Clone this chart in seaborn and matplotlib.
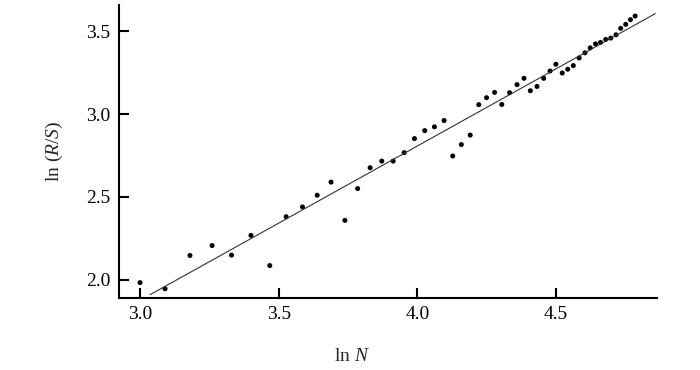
import numpy as np
import pandas as pd
import matplotlib
matplotlib.use("Agg")
import matplotlib.pyplot as plt
import seaborn as sns

# points: ln N vs ln (R/S)
ln_n = [3.00, 3.09, 3.18, 3.26, 3.33, 3.40, 3.468, 3.527, 3.586, 3.639,
        3.689, 3.739, 3.785, 3.83, 3.872, 3.913, 3.953, 3.99, 4.027, 4.062,
        4.097, 4.128, 4.159, 4.191, 4.222, 4.25, 4.279, 4.305, 4.333, 4.36,
        4.385, 4.408, 4.432, 4.456, 4.479, 4.50, 4.523, 4.543, 4.563, 4.584,
        4.605, 4.624, 4.643, 4.661, 4.68, 4.698, 4.717, 4.734, 4.752, 4.769,
        4.786]
ln_rs = [1.982, 1.945, 2.146, 2.206, 2.148, 2.267, 2.085, 2.380, 2.439, 2.51,
         2.589, 2.358, 2.55, 2.676, 2.716, 2.716, 2.767, 2.852, 2.90, 2.923,
         2.961, 2.747, 2.816, 2.873, 3.057, 3.099, 3.131, 3.058, 3.129, 3.178,
         3.216, 3.141, 3.167, 3.216, 3.26, 3.301, 3.248, 3.271, 3.293, 3.339,
         3.37, 3.40, 3.424, 3.433, 3.451, 3.459, 3.479, 3.518, 3.542, 3.57,
         3.592]

# fitted line ends
fit_x = [3.036, 4.859]
fit_y = [1.909, 3.607]

xticks = [3.0, 3.5, 4.0, 4.5]
yticks = [2.0, 2.5, 3.0, 3.5]

df = pd.DataFrame({"x": ln_n, "y": ln_rs})
fit = pd.DataFrame({"x": fit_x, "y": fit_y})

sns.set_style("ticks")
plt.rcParams['font.family'] = ['Liberation Serif', 'DejaVu Serif']
plt.rcParams['mathtext.fontset'] = 'custom'
plt.rcParams['mathtext.rm'] = 'Liberation Serif'
plt.rcParams['mathtext.it'] = 'Liberation Serif:italic'

fig = plt.figure(figsize=(7, 3.7), dpi=100)
ax = fig.add_axes([0.17, 0.195, 0.769, 0.792])

sns.lineplot(data=fit, x="x", y="y", ax=ax, color="#333333", linewidth=0.8)
sns.scatterplot(data=df, x="x", y="y", ax=ax, color="black", s=13,
                edgecolor="none")

ax.set_xlim(2.924, 4.866)
ax.set_ylim(1.89, 3.66)
ax.set_xticks(xticks)
ax.set_yticks(yticks)
ax.set_xticklabels([f"{t:.1f}" for t in xticks])
ax.set_yticklabels([f"{t:.1f}" for t in yticks])
ax.tick_params(direction="in", length=7, width=1.5, labelsize=14, pad=6,
               colors="black")

for s in ["top", "right"]:
    ax.spines[s].set_visible(False)
for s in ["left", "bottom"]:
    ax.spines[s].set_linewidth(1.5)
    ax.spines[s].set_color("black")

ax.set_xlabel(r"ln $\mathit{N}$", fontsize=14)
ax.set_ylabel(r"ln ($\mathit{R/S}$)", fontsize=14)
ax.xaxis.set_label_coords(0.433, -0.17)
ax.yaxis.set_label_coords(-0.1, 0.5)

fig.savefig("out.png", dpi=100)
